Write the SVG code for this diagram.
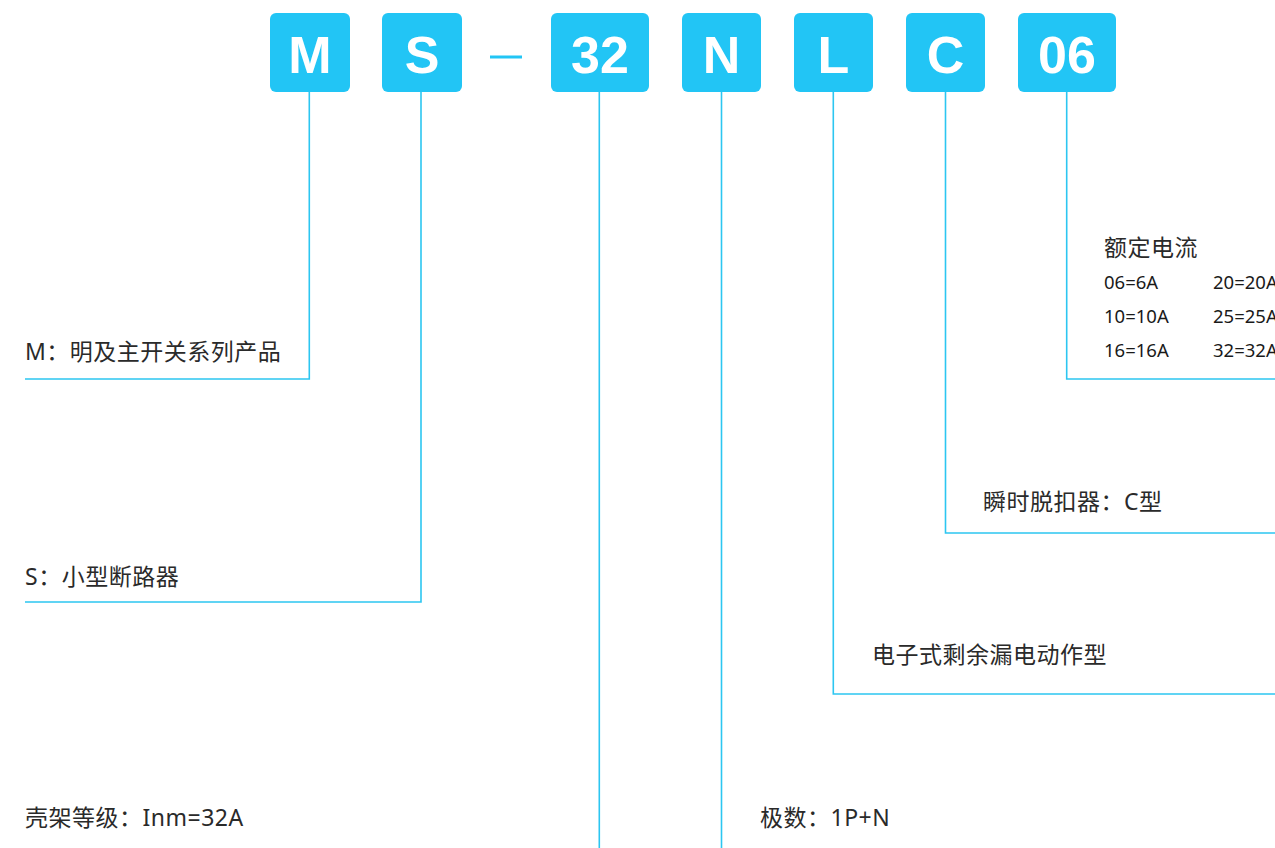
<svg xmlns="http://www.w3.org/2000/svg" width="1275" height="848" viewBox="0 0 1275 848">
<style>
.box{fill:#22c5f5;}
.bt{font-family:"Liberation Sans",Arial,sans-serif;font-weight:bold;font-size:52px;fill:#fff;text-anchor:middle;}
.ln{fill:none;stroke:#2cc6f1;stroke-width:1.6;}
.lb{font-family:"Noto Sans","Noto Sans CJK SC",sans-serif;font-size:23px;fill:#2a2a2a;letter-spacing:0.5px;}
.sm{font-family:"Noto Sans","Noto Sans CJK SC",sans-serif;font-size:18.5px;fill:#1a1a1a;}
</style>
<rect width="1275" height="848" fill="#fff"/>
<g id="connectors">
<path class="ln" d="M309.3,92 V379 H25"/>
<path class="ln" d="M421,92 V602 H25"/>
<path class="ln" d="M599.3,92 V848"/>
<path class="ln" d="M721.5,92 V848"/>
<path class="ln" d="M833.3,92 V694 H1275"/>
<path class="ln" d="M945.5,92 V533 H1275"/>
<path class="ln" d="M1066.7,92 V379 H1275"/>
</g>
<g id="node-M"><rect class="box" x="270" y="13" width="80" height="79" rx="6"/><text class="bt" x="310" y="73">M</text></g>
<g id="node-S"><rect class="box" x="382" y="13" width="80" height="79" rx="6"/><text class="bt" x="422" y="73">S</text></g>
<g id="dash"><rect class="box" x="490" y="55.5" width="32" height="3"/></g>
<g id="node-32"><rect class="box" x="551" y="13" width="98" height="79" rx="6"/><text class="bt" x="600" y="73">32</text></g>
<g id="node-N"><rect class="box" x="682" y="13" width="79" height="79" rx="6"/><text class="bt" x="721.5" y="73">N</text></g>
<g id="node-L"><rect class="box" x="794" y="13" width="79" height="79" rx="6"/><text class="bt" x="833.5" y="73">L</text></g>
<g id="node-C"><rect class="box" x="906" y="13" width="79" height="79" rx="6"/><text class="bt" x="945.5" y="73">C</text></g>
<g id="node-06"><rect class="box" x="1018" y="13" width="98" height="79" rx="6"/><text class="bt" x="1067" y="73">06</text></g>
<g id="label-M"><text class="lb" x="25" y="360">M：明及主开关系列产品</text></g>
<g id="label-S"><text class="lb" x="25" y="585">S：小型断路器</text></g>
<g id="label-32"><text class="lb" x="25" y="826">壳架等级：Inm=32A</text></g>
<g id="label-N"><text class="lb" x="760" y="826">极数：1P+N</text></g>
<g id="label-L"><text class="lb" x="872" y="663">电子式剩余漏电动作型</text></g>
<g id="label-C"><text class="lb" x="983" y="510">瞬时脱扣器：C型</text></g>
<g id="label-06">
<text class="lb" x="1104" y="256">额定电流</text>
<text class="sm" x="1104" y="289">06=6A</text>
<text class="sm" x="1213" y="289">20=20A</text>
<text class="sm" x="1104" y="323">10=10A</text>
<text class="sm" x="1213" y="323">25=25A</text>
<text class="sm" x="1104" y="357">16=16A</text>
<text class="sm" x="1213" y="357">32=32A</text>
</g>
</svg>
